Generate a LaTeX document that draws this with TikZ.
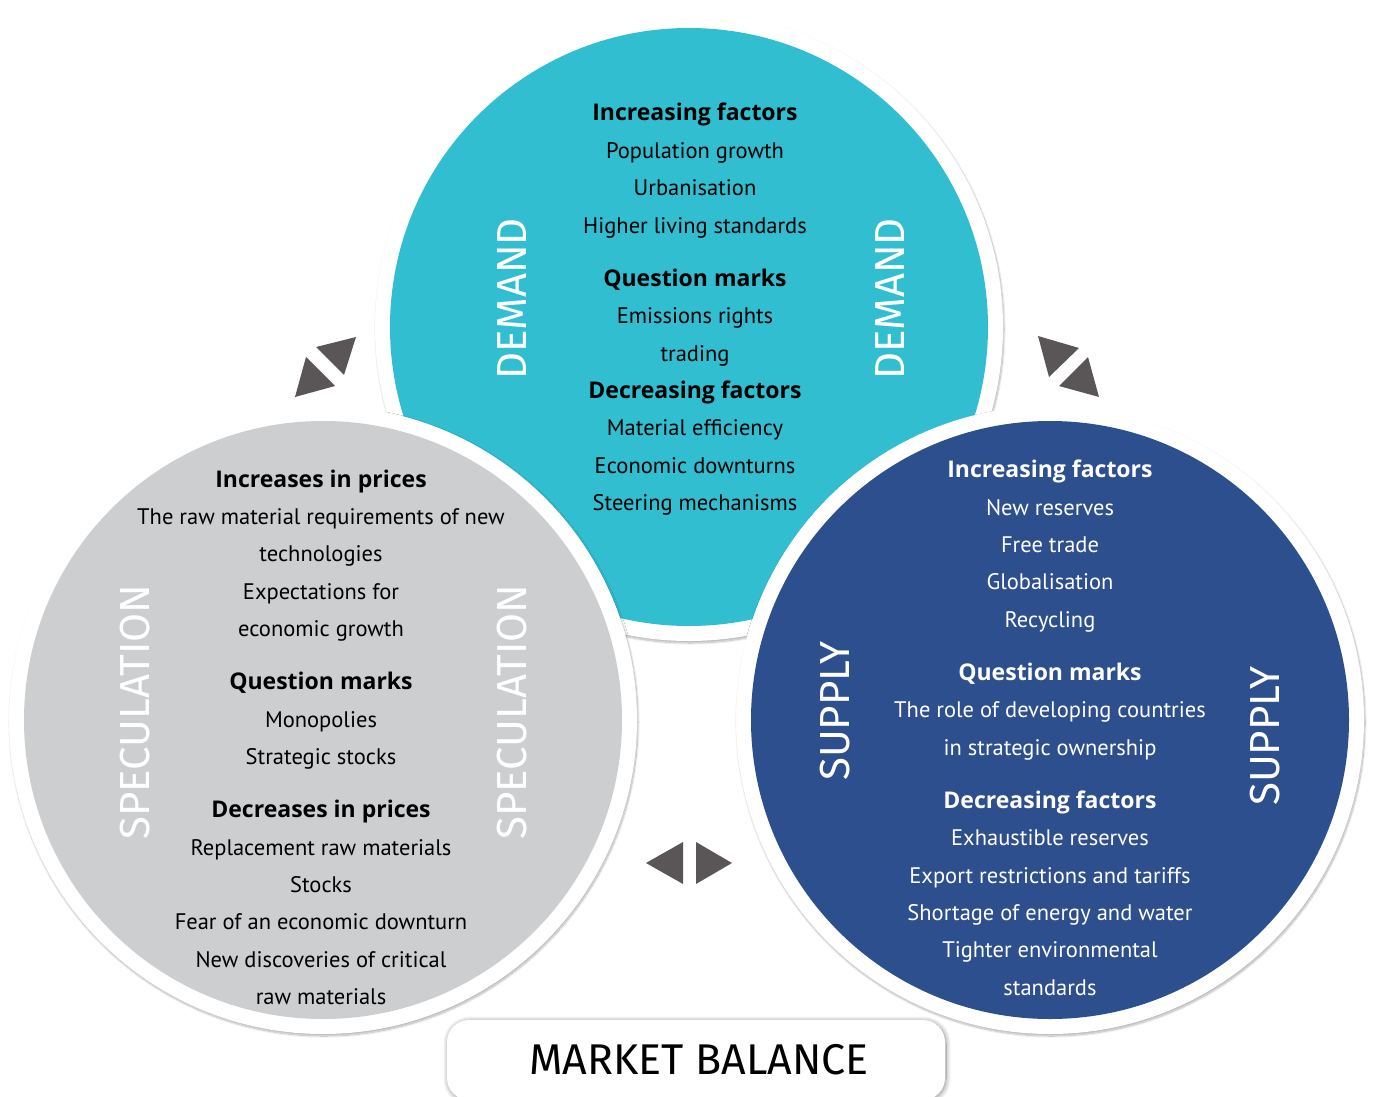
\documentclass[tikz,border=0pt]{standalone}
\usepackage{fontspec}
\setmainfont{PT Sans}
\newfontfamily\regfont{Fira Sans}
\newfontfamily\headfont{Open Sans}
\usetikzlibrary{shadows.blur}
\definecolor{demandteal}{HTML}{31BED0}
\definecolor{specgray}{HTML}{CDCED0}
\definecolor{supplyblue}{HTML}{2D4F8D}
\definecolor{arrowgray}{HTML}{5A5556}
\newcommand\headtxt[1]{{\headfont\bfseries\fontsize{23}{26}\selectfont #1}}
\begin{document}
\begin{tikzpicture}[
        x=1pt, y=-1pt,
        ring/.style={circle, inner sep=0pt, minimum size=628pt, fill=white,
            blur shadow={shadow blur steps=12, shadow xshift=1pt, shadow yshift=-2pt, shadow opacity=30}},
        disc/.style={circle, inner sep=0pt, minimum size=598pt},
        line/.style={anchor=mid, inner sep=0pt, font=\fontsize{22.5}{26}\selectfont},
        sidelabel/.style={rotate=90, inner sep=0pt, text=white, font=\regfont\fontsize{42}{50}\selectfont},
        balance/.style={rounded corners=22pt, fill=white, minimum width=498pt, minimum height=80pt,
            inner sep=0pt, font=\regfont\fontsize{43}{50}\selectfont,
            blur shadow={shadow blur steps=14, shadow blur radius=5pt, shadow xshift=1pt,
                shadow yshift=-1pt, shadow opacity=45}},
        tri/.style={fill=arrowgray}
    ]
    \useasboundingbox (0,0) rectangle (1374,1097);
    % circles
    \node[ring] (demandring) at (689,327) {};
    \node[disc, fill=demandteal] (demand) at (689,327) {};
    \node[ring] (specring) at (323,720) {};
    \node[disc, fill=specgray] (spec) at (323,720) {};
    \node[ring] (supplyring) at (1050,720) {};
    \node[disc, fill=supplyblue] (supply) at (1050,720) {};
    \node[balance] (balance) at (696,1060) {\hspace*{6pt}MARKET BALANCE};
    % arrows
    \fill[tri] (316,347) -- (356,337) -- (344,375) -- cycle;
    \fill[tri] (306,357) -- (335,386) -- (295,397) -- cycle;
    \fill[tri] (1038,336) -- (1079,348) -- (1049,377) -- cycle;
    \fill[tri] (1088,357) -- (1099,397) -- (1059,386) -- cycle;
    \fill[tri] (646,863) -- (683,842) -- (683,884) -- cycle;
    \fill[tri] (696,842) -- (732,863) -- (696,884) -- cycle;
    % side labels
    \node[sidelabel] (demandl) at (512,299) {DEMAND};
    \node[sidelabel] (demandr) at (890,299) {DEMAND};
    \node[sidelabel] (specl) at (135,712) {SPECULATION};
    \node[sidelabel] (specr) at (512,712) {SPECULATION};
    \node[sidelabel] (supplyl) at (835,711) {SUPPLY};
    \node[sidelabel] (supplyr) at (1265,736) {SUPPLY};
    % demand texts
    \foreach \ty/\tx [count=\i] in {118/\headtxt{Increasing factors}, 156/Population growth,
            193/Urbanisation, 231/Higher living standards, 284/\headtxt{Question marks},
            321/Emissions rights, 359/trading, 396/\headtxt{Decreasing factors},
            433/Material efficiency, 471/Economic downturns, 508/Steering mechanisms}
        \node[line] (dem\i) at (695,\ty) {\tx};
    % speculation texts
    \foreach \ty/\tx [count=\i] in {485/\headtxt{Increases in prices}, 522/The raw material requirements of new,
            559/technologies, 597/Expectations for, 634/economic growth,
            687/\headtxt{Question marks}, 725/Monopolies, 762/Strategic stocks,
            815/\headtxt{Decreases in prices}, 853/Replacement raw materials, 890/Stocks,
            927/Fear of an economic downturn, 965/New discoveries of critical, 1002/raw materials}
        \node[line] (spc\i) at (321,\ty) {\tx};
    % supply texts
    \foreach \ty/\tx [count=\i] in {475/\headtxt{Increasing factors}, 513/New reserves, 550/Free trade,
            587/Globalisation, 625/Recycling, 678/\headtxt{Question marks},
            715/The role of developing countries, 753/in strategic ownership,
            806/\headtxt{Decreasing factors}, 843/Exhaustible reserves,
            881/Export restrictions and tariffs, 918/Shortage of energy and water,
            955/Tighter environmental, 993/standards}
        \node[line, text=white] (sup\i) at (1050,\ty) {\tx};
\end{tikzpicture}
\end{document}
